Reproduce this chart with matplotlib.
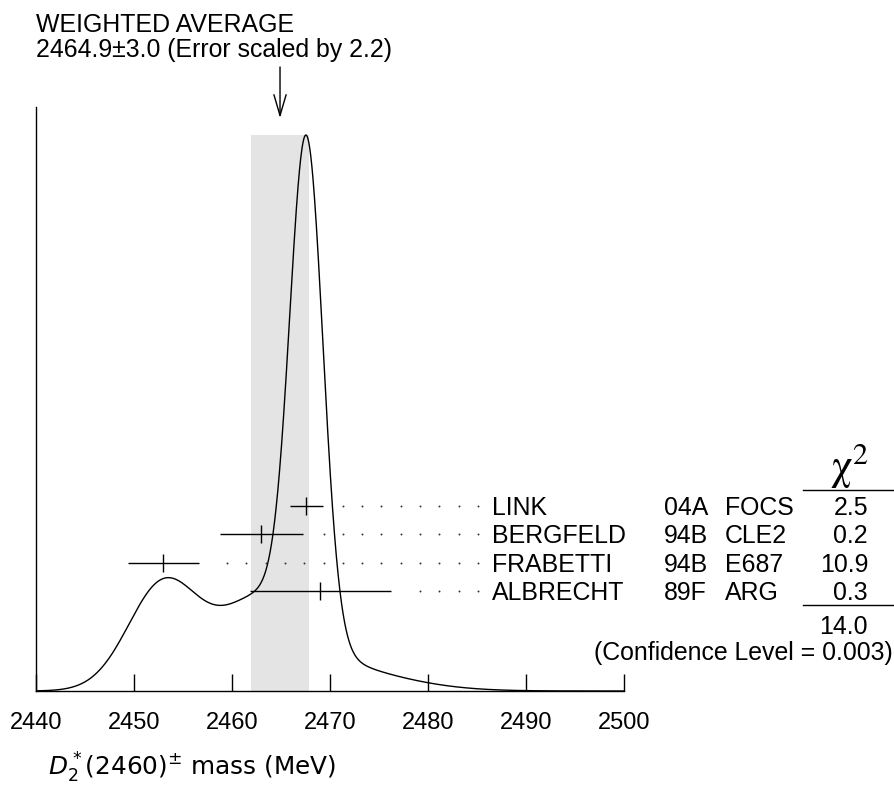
import numpy as np
import matplotlib
matplotlib.use("Agg")
import matplotlib.pyplot as plt
import matplotlib.transforms as mtransforms

plt.rcParams['font.family'] = ['Liberation Sans', 'DejaVu Sans']
plt.rcParams['mathtext.fontset'] = 'dejavusans'

# ---- data ----
names = ['LINK', 'BERGFELD', 'FRABETTI', 'ALBRECHT']
years = ['04A', '94B', '94B', '89F']
expts = ['FOCS', 'CLE2', 'E687', 'ARG']
values = [2467.6, 2463.0, 2453.0, 2469.0]
errors = [1.68, 4.24, 3.61, 7.21]
chi2 = ['2.5', '0.2', '10.9', '0.3']
chi2_total = '14.0'
conf_level = '0.003'
avg_value = 2464.9
avg_error = 3.0
err_scale = 2.2
xticks = [2440, 2450, 2460, 2470, 2480, 2490, 2500]

W, H = 895, 793
fig = plt.figure(figsize=(W / 100, H / 100), dpi=100)
ax = fig.add_axes([36 / W, (H - 691) / H, 588 / W, 584 / H])

# ideogram: sum of gaussians, area proportional to 1/sigma
xs = np.linspace(2440, 2500, 2000)
ys = np.zeros_like(xs)
for v, e in zip(values, errors):
    ys += (1.0 / e**2) * np.exp(-0.5 * ((xs - v) / e) ** 2)
peak = ys.max()
ytop = peak / ((691 - 135) / 584)

ax.set_xlim(2440, 2500)
ax.set_ylim(0, ytop)

# weighted average band
ax.fill_between([avg_value - avg_error, avg_value + avg_error], 0, peak,
                color='#e4e4e4', lw=0, zorder=1)
ax.plot(xs, ys, color='k', lw=1.0, zorder=3)

# measurements
row_frac = 0.317 - 0.0485 * np.arange(len(names))
row_y = row_frac * ytop
ax.errorbar(values, row_y, xerr=errors, fmt='none', ecolor='k',
            elinewidth=1.0, capsize=0, zorder=4)
ax.plot(values, row_y, ls='none', marker='|', ms=13.5, mew=1.0,
        color='k', zorder=4)

dot_end, dot_step = 2485.1, 1.97
grid = dot_end - dot_step * np.arange(40)
for v, e, y in zip(values, errors, row_y):
    g = grid[grid > v + e + 1.5]
    ax.plot(g, np.full(len(g), y), ls='none', marker='o', ms=1.4,
            mec='none', color='#333333', zorder=4)

blend = mtransforms.blended_transform_factory(ax.transData, ax.transAxes)
fs = 17.9
boff = 9 / 584
for i in range(len(names)):
    yb = row_frac[i] - boff
    ax.text(2486.5, yb, names[i], transform=blend, va='baseline',
            ha='left', fontsize=fs, clip_on=False)
    ax.text(2504.1, yb, years[i], transform=blend, va='baseline',
            ha='left', fontsize=fs, clip_on=False)
    ax.text(2510.3, yb, expts[i], transform=blend, va='baseline',
            ha='left', fontsize=fs, clip_on=False)
    ax.text(2524.9, yb, chi2[i], transform=blend, va='baseline',
            ha='right', fontsize=fs, clip_on=False)

ax.text(2523.0, (691 - 480) / 584, r'$\mathrm{\chi}^{2}$', transform=blend,
        va='baseline', ha='center', fontsize=31, math_fontfamily='stix',
        clip_on=False)
ax.plot([2518.3, 2527.7], [(691 - 490) / 584] * 2, color='k', lw=1.0,
        transform=blend, clip_on=False)
ax.plot([2518.3, 2527.7], [(691 - 605) / 584] * 2, color='k', lw=1.0,
        transform=blend, clip_on=False)
ax.text(2524.9, (691 - 634) / 584, chi2_total, transform=blend,
        va='baseline', ha='right', fontsize=fs, clip_on=False)
ax.text(2527.4, (691 - 660) / 584, f'(Confidence Level = {conf_level})',
        transform=blend, va='baseline', ha='right', fontsize=fs,
        clip_on=False)

# arrow
ax.annotate('', xy=(avg_value, (691 - 118) / 584),
            xytext=(avg_value, (691 - 67) / 584),
            xycoords=blend, textcoords=blend,
            arrowprops=dict(arrowstyle='->,head_length=0.75,head_width=0.22',
                            lw=1.0, color='k', shrinkA=0, shrinkB=0,
                            mutation_scale=20))

# titles
fig.text(36 / W, 1 - 32 / H, 'WEIGHTED AVERAGE', fontsize=fs,
         va='baseline', ha='left')
fig.text(36 / W, 1 - 57 / H,
         f'{avg_value}\u00b1{avg_error:.1f} (Error scaled by {err_scale})',
         fontsize=fs, va='baseline', ha='left')

# axes styling
for s in ['top', 'right']:
    ax.spines[s].set_visible(False)
for s in ['left', 'bottom']:
    ax.spines[s].set_linewidth(1.0)
ax.set_yticks([])
ax.set_xticks(xticks)
ax.set_xticklabels([str(t) for t in xticks])
ax.tick_params(axis='x', direction='in', length=12.2, width=1.0, pad=15,
               labelsize=17)

fig.text(48 / W, 1 - 776 / H, r'$D_2^*(2460)^{\pm}$ mass (MeV)',
         fontsize=17.8, va='baseline', ha='left', family='DejaVu Sans')

fig.savefig('out.png', dpi=100)
